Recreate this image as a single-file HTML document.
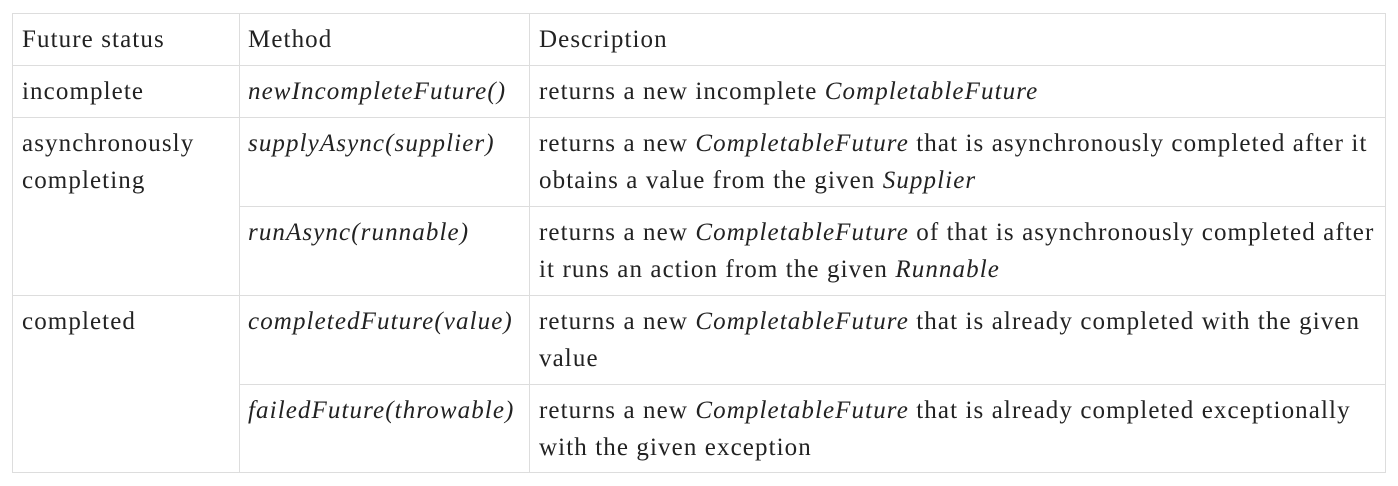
<!DOCTYPE html>
<html><head><meta charset="utf-8"><style>
body{margin:0;width:1398px;height:486px;background:#fff;position:relative;font-family:"Liberation Serif",serif;font-size:25px;color:#222;letter-spacing:1.1px;}
.h{position:absolute;height:1px;background:#ddd;left:12px;width:1374px}
.v{position:absolute;width:1px;background:#ddd;top:13px;height:460px}
.t{position:absolute;white-space:nowrap;line-height:37px}
i{font-style:italic}
</style></head><body>
<div class="h" style="top:13px"></div>
<div class="h" style="top:65px"></div>
<div class="h" style="top:117px"></div>
<div class="h" style="top:206px;left:239px;width:1147px"></div>
<div class="h" style="top:295px"></div>
<div class="h" style="top:384px;left:239px;width:1147px"></div>
<div class="h" style="top:472px"></div>
<div class="v" style="left:12px"></div>
<div class="v" style="left:239px"></div>
<div class="v" style="left:529px"></div>
<div class="v" style="left:1385px"></div>

<div class="t" style="left:22px;top:21px">Future status</div>
<div class="t" style="left:248px;top:21px">Method</div>
<div class="t" style="left:539px;top:21px">Description</div>

<div class="t" style="left:22px;top:73px">incomplete</div>
<div class="t" style="left:248px;top:73px"><i>newIncompleteFuture()</i></div>
<div class="t" style="left:539px;top:73px">returns a new incomplete <i>CompletableFuture</i></div>

<div class="t" style="left:22px;top:125px">asynchronously<br>completing</div>
<div class="t" style="left:248px;top:125px"><i>supplyAsync(supplier)</i></div>
<div class="t" style="left:539px;top:125px">returns a new <i>CompletableFuture</i> that is asynchronously completed after it<br>obtains a value from the given <i>Supplier</i></div>

<div class="t" style="left:248px;top:214px"><i>runAsync(runnable)</i></div>
<div class="t" style="left:539px;top:214px">returns a new <i>CompletableFuture</i> of that is asynchronously completed after<br>it runs an action from the given <i>Runnable</i></div>

<div class="t" style="left:22px;top:303px">completed</div>
<div class="t" style="left:248px;top:303px"><i>completedFuture(value)</i></div>
<div class="t" style="left:539px;top:303px">returns a new <i>CompletableFuture</i> that is already completed with the given<br>value</div>

<div class="t" style="left:248px;top:392px"><i>failedFuture(throwable)</i></div>
<div class="t" style="left:539px;top:392px">returns a new <i>CompletableFuture</i> that is already completed exceptionally<br>with the given exception</div>
</body></html>
